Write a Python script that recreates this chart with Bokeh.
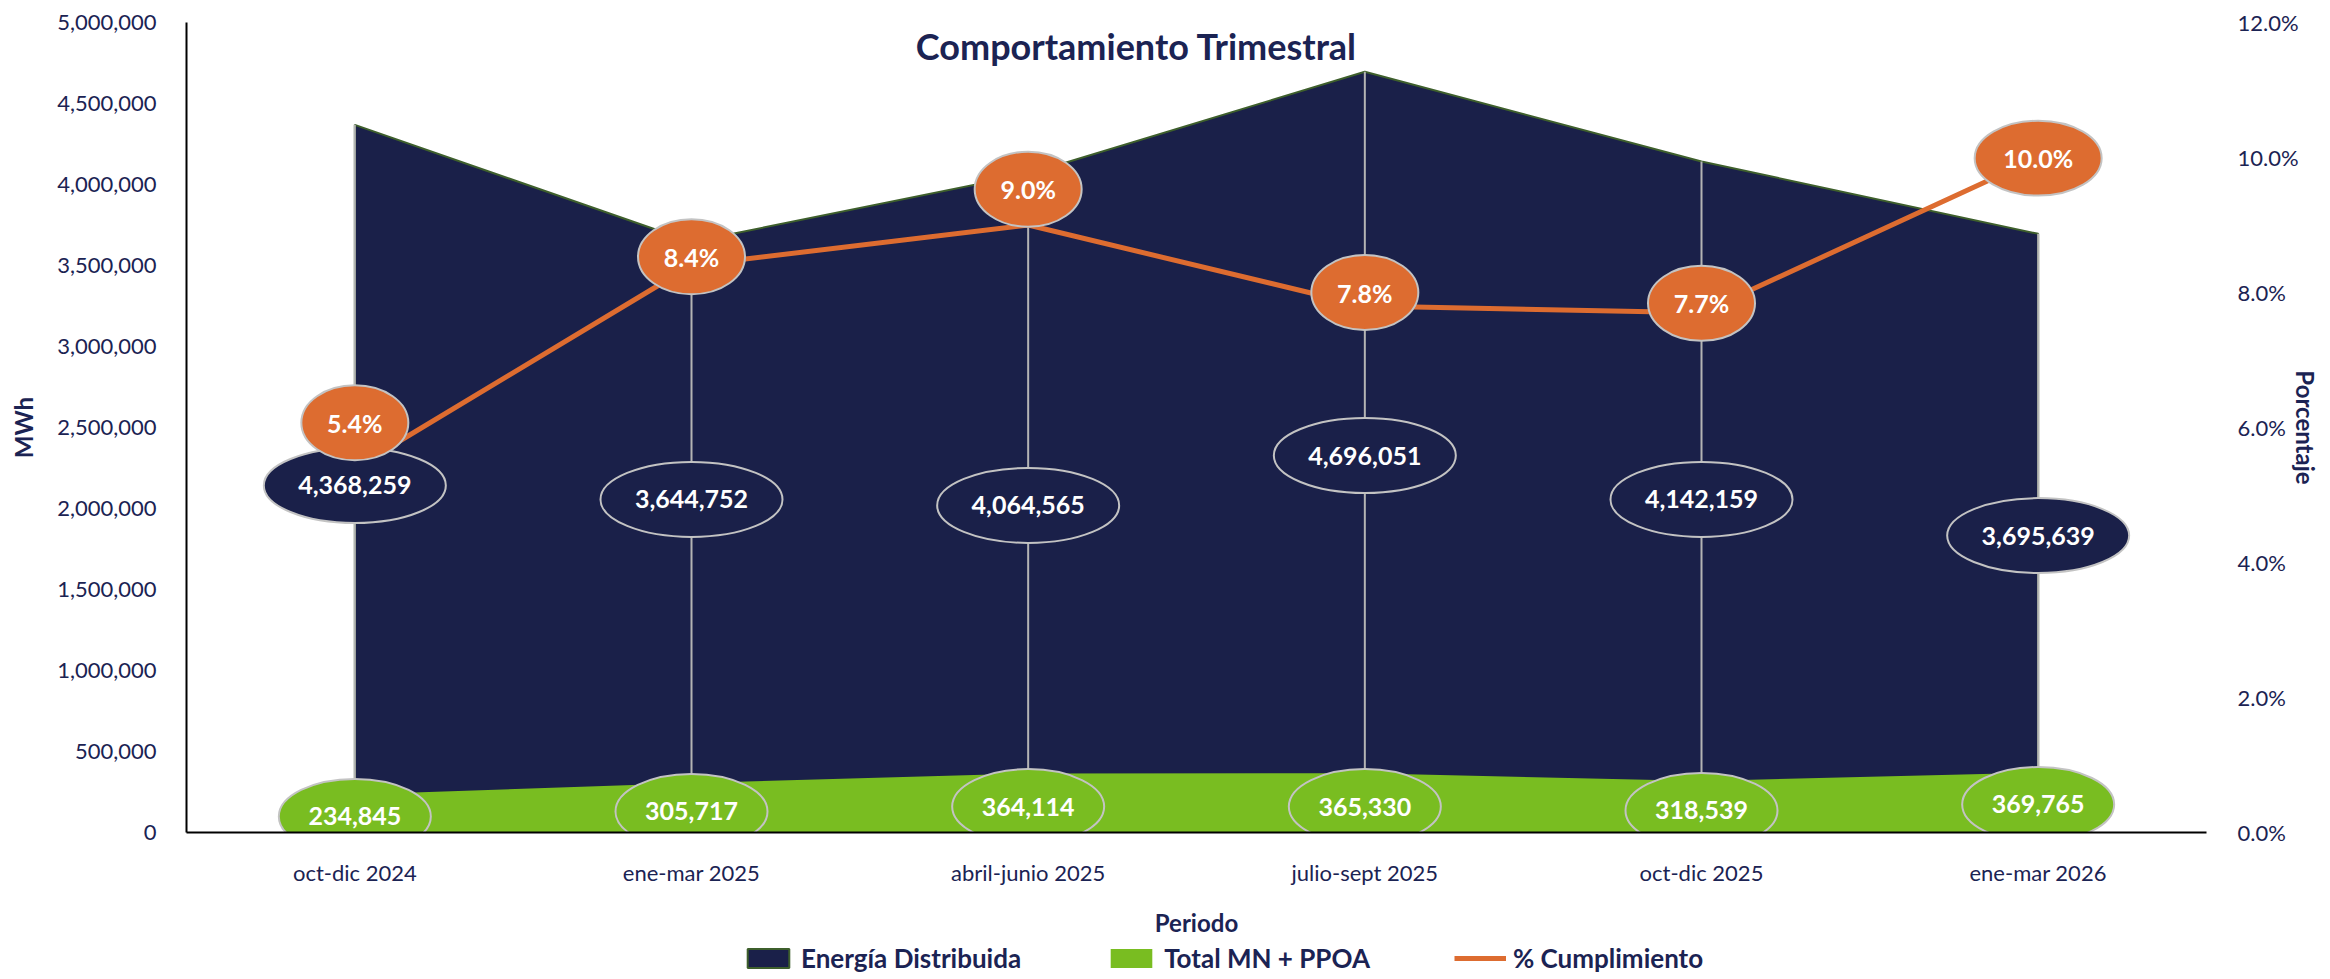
from bokeh.plotting import figure
from bokeh.layouts import column
from bokeh.models import (FactorRange, Range1d, LinearAxis, FixedTicker,
                          NumeralTickFormatter, Label)
from bokeh.core.properties import value
from bokeh.embed import file_html
from bokeh.resources import INLINE

# ---------------- data ----------------
periodos = ["oct-dic 2024", "ene-mar 2025", "abril-junio 2025",
            "julio-sept 2025", "oct-dic 2025", "ene-mar 2026"]
energia_distribuida = [4368259, 3644752, 4064565, 4696051, 4142159, 3695639]
total_mn_ppoa = [234845, 305717, 364114, 365330, 318539, 369765]
pct_cumplimiento = [5.4, 8.4, 9.0, 7.8, 7.7, 10.0]
mwh_ticks = [0, 500000, 1000000, 1500000, 2000000, 2500000,
             3000000, 3500000, 4000000, 4500000, 5000000]
pct_ticks = [0.0, 0.02, 0.04, 0.06, 0.08, 0.10, 0.12]
series_names = ["Energía Distribuida", "Total MN + PPOA", "% Cumplimiento"]

# label anchor positions (layout only)
energia_label_y = [2142000, 2056000, 2019000, 2327000, 2056000, 1833000]
total_label_y = [99000, 130000, 160000, 160000, 136000, 173000]
pct_label_y = [6.07, 8.53, 9.53, 8.00, 7.84, 9.99]

# ---------------- styles ----------------
NAVY = "#1a2049"
GREEN = "#79bd21"
ORANGE = "#dd6c30"
TEXT = "#1b2353"
DROP = "#b4b4b4"
BORDER = "#c3c3c3"
EDGE = "#3e5f2c"
FONT = "Lato"

p = figure(width=2322, height=942,
           x_range=FactorRange(*periodos, range_padding=0),
           y_range=Range1d(0, 5000000),
           output_backend="svg", toolbar_location=None,
           min_border_left=186, min_border_right=111,
           min_border_top=22, min_border_bottom=110)
p.extra_y_ranges = {"pct": Range1d(0, 0.12)}
p.outline_line_color = None
p.xgrid.visible = False
p.ygrid.visible = False

area_x = periodos + periodos[::-1]
area_y = energia_distribuida + [0] * len(periodos)
zeros = [0] * len(periodos)
pct_frac = [v / 100 for v in pct_cumplimiento]

# navy area (Energía Distribuida)
p.patch(area_x, area_y, fill_color=NAVY, line_color=EDGE, line_width=2)

# green area (Total MN + PPOA)
p.varea(x=periodos, y1=zeros, y2=total_mn_ppoa, fill_color=GREEN)

# drop lines
p.segment(x0=periodos, y0=zeros, x1=periodos, y1=energia_distribuida,
          line_color=DROP, line_width=2)

# % line
p.line(periodos, pct_frac, y_range_name="pct", line_color=ORANGE,
       line_width=5)

# callouts
energia_txt = [f"{v:,}" for v in energia_distribuida]
total_txt = [f"{v:,}" for v in total_mn_ppoa]
pct_txt = [f"{v:.1f}%" for v in pct_cumplimiento]

p.ellipse(x=periodos, y=energia_label_y, width=182, height=75,
          width_units="screen", height_units="screen",
          fill_color=NAVY, line_color=BORDER, line_width=2)
p.ellipse(x=periodos, y=total_label_y, width=152, height=75,
          width_units="screen", height_units="screen",
          fill_color=GREEN, line_color=BORDER, line_width=2)
p.ellipse(x=periodos, y=[v / 100 for v in pct_label_y],
          width=[27 + 20 * len(t) for t in pct_txt], height=75,
          width_units="screen", height_units="screen", y_range_name="pct",
          fill_color=ORANGE, line_color=BORDER, line_width=2)

common = dict(text_font=value(FONT), text_font_style="bold",
              text_font_size="25px", text_color="white",
              text_align="center", text_baseline="middle")
p.text(x=periodos, y=energia_label_y, text=energia_txt, **common)
p.text(x=periodos, y=total_label_y, text=total_txt, **common)
p.text(x=periodos, y=[v / 100 for v in pct_label_y], text=pct_txt,
       y_range_name="pct", **common)

# axes
ax2 = LinearAxis(y_range_name="pct", ticker=FixedTicker(ticks=pct_ticks),
                 formatter=NumeralTickFormatter(format="0.0%"))
p.add_layout(ax2, "right")

for ax in (p.xaxis[0], p.yaxis[0], ax2):
    ax.axis_line_color = "black"
    ax.axis_line_width = 2
    ax.major_tick_out = 0
    ax.major_tick_in = 0
    ax.minor_tick_out = 0
    ax.minor_tick_in = 0
    ax.major_label_text_font = FONT
    ax.major_label_text_font_size = "22px"
    ax.major_label_text_color = TEXT
    ax.axis_label_text_font = FONT
    ax.axis_label_text_font_style = "bold"
    ax.axis_label_text_font_size = "24px"
    ax.axis_label_text_color = TEXT

p.xaxis[0].axis_label = "Periodo"
p.xaxis[0].major_label_standoff = 26
p.xaxis[0].axis_label_standoff = 19

p.yaxis[0].ticker = FixedTicker(ticks=mwh_ticks)
p.yaxis[0].formatter = NumeralTickFormatter(format="0,0")
p.yaxis[0].axis_label = "MWh"
p.yaxis[0].major_label_standoff = 30
p.yaxis[0].axis_label_standoff = 16

ax2.axis_line_color = None
ax2.major_label_standoff = 31
ax2.axis_label = "Porcentaje"
ax2.axis_label_standoff = -11

# title
p.add_layout(Label(x=950, y=787, x_units="screen", y_units="screen",
                   text="Comportamiento Trimestral", text_font=FONT,
                   text_font_style="bold", text_font_size="36px",
                   text_color=TEXT, text_align="center",
                   text_baseline="middle"))

# ---------------- legend strip ----------------
# same series drawn out of view; only their legend entries are visible
lf = figure(width=2322, height=32,
            x_range=FactorRange(*periodos, range_padding=0),
            y_range=Range1d(-2, -1), x_axis_type=None, y_axis_type=None,
            output_backend="svg", toolbar_location=None,
            min_border_left=0, min_border_right=0,
            min_border_top=0, min_border_bottom=0)
lf.outline_line_color = None
lf.xgrid.visible = False
lf.ygrid.visible = False
lf.patch(area_x, area_y, fill_color=NAVY, line_color=EDGE, line_width=2,
         legend_label=series_names[0])
lf.varea(x=periodos, y1=zeros, y2=total_mn_ppoa, fill_color=GREEN,
         legend_label=series_names[1])
lf.line(periodos, pct_frac, line_color=ORANGE, line_width=5,
        legend_label=series_names[2])

lg = lf.legend[0]
lg.orientation = "horizontal"
lg.location = (556, 0)
lg.glyph_width = 52
lg.glyph_height = 24
lg.label_standoff = 7
lg.spacing = 84
lg.padding = 0
lg.margin = 0
lg.border_line_color = None
lg.background_fill_alpha = 0
lg.label_text_font = FONT
lg.label_text_font_style = "bold"
lg.label_text_font_size = "26px"
lg.label_text_color = TEXT

layout = column(p, lf, spacing=0)
open("out.html", "w").write(file_html(layout, INLINE))
